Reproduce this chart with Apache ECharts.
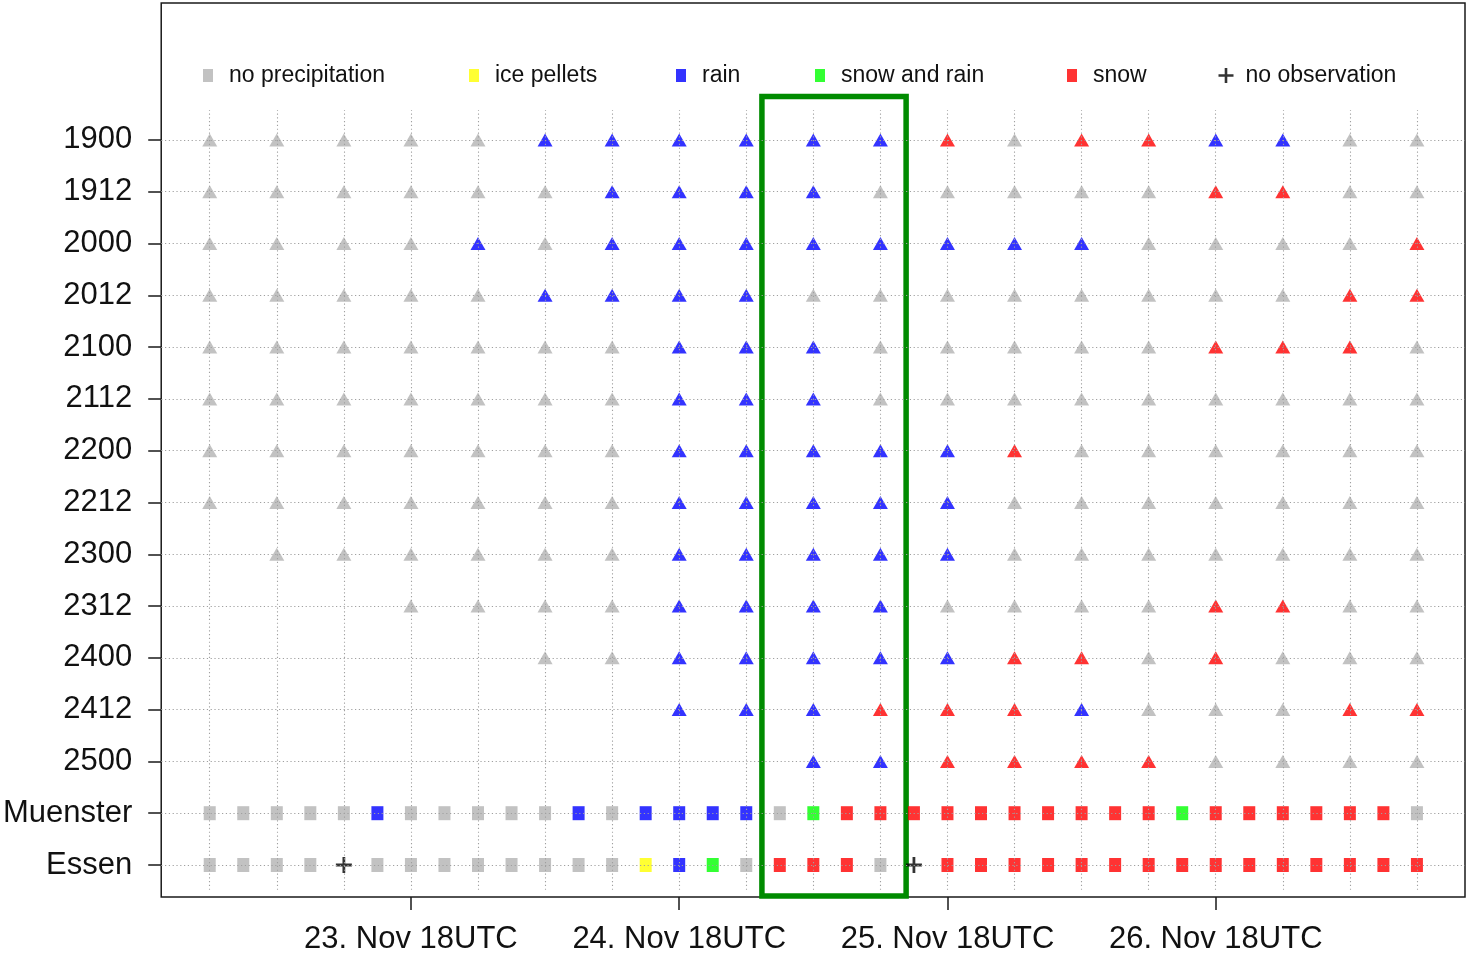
<!DOCTYPE html>
<html>
<head>
<meta charset="utf-8">
<script src="https://cdn.jsdelivr.net/npm/echarts@6/dist/echarts.min.js"></script>
<style>html,body{margin:0;padding:0;background:#fff}#c{width:1467px;height:959px}</style>
</head>
<body>
<div id="c"></div>
<script>
// ---------- data ----------
// rows from top to bottom (forecast runs DDHH, then observation stations)
const rowNames = ['1900','1912','2000','2012','2100','2112','2200','2212','2300','2312','2400','2412','2500','Muenster','Essen'];
// forecast valid times: hours since 23 Nov 00UTC (6-hourly)
const forecastHours = [0,6,12,18,24,30,36,42,48,54,60,66,72,78,84,90,96,102,108];
// observation times: hours since 23 Nov 00UTC (3-hourly)
const obsHours = [0,3,6,9,12,15,18,21,24,27,30,33,36,39,42,45,48,51,54,57,60,63,66,69,72,75,78,81,84,87,90,93,96,99,102,105,108];
// codes: n=no precipitation, i=ice pellets, r=rain, m=snow and rain, s=snow, x=no observation, -=none
const run1900 = 'nnnnnrrrrrrsnssrrnn';
const run1912 = 'nnnnnnrrrrnnnnnssnn';
const run2000 = 'nnnnrnrrrrrrrrnnnns';
const run2012 = 'nnnnnrrrrnnnnnnnnss';
const run2100 = 'nnnnnnnrrrnnnnnsssn';
const run2112 = 'nnnnnnnrrrnnnnnnnnn';
const run2200 = 'nnnnnnnrrrrrsnnnnnn';
const run2212 = 'nnnnnnnrrrrrnnnnnnn';
const run2300 = '-nnnnnnrrrrrnnnnnnn';
const run2312 = '---nnnnrrrrnnnnssnn';
const run2400 = '-----nnrrrrrssnsnnn';
const run2412 = '-------rrrsssrnnnss';
const run2500 = '---------rrssssnnnn';
const obsMuenster = 'nnnnnrnnnnnrnrrrrnmssssssssssmssssssn';
const obsEssen    = 'nnnnxnnnnnnnnirmnsssnxsssssssssssssss';
// axis ticks
const xTickValues = [18, 42, 66, 90];
const xTickLabels = ['23. Nov 18UTC', '24. Nov 18UTC', '25. Nov 18UTC', '26. Nov 18UTC'];
// highlighted period (hours since 23 Nov 00UTC) and row extent
const boxHours = [49.4, 62.3];
const boxRows = [-0.6, 14.84];

// ---------- categories ----------
const catCodes = ['n','i','r','m','s','x'];
const catNames = ['no precipitation','ice pellets','rain','snow and rain','snow','no observation'];
const catColors = ['#b3b3b3','#ffff00','#0000ff','#00ff00','#ff0000','#000000'];
const legendIconX = [208, 474, 681, 820, 1072, 1226];
const plusPath = 'path://M6.2,0H8.8V6.2H15V8.8H8.8V15H6.2V8.8H0V6.2H6.2Z';

const forecastRuns = [run1900, run1912, run2000, run2012, run2100, run2112, run2200, run2212, run2300, run2312, run2400, run2412, run2500];
const observations = [obsMuenster, obsEssen];

const catData = catCodes.map(() => []);
forecastRuns.forEach((codes, r) => {
  const y = rowNames.length - 1 - r;
  codes.split('').forEach((c, k) => {
    const ci = catCodes.indexOf(c);
    if (ci >= 0) catData[ci].push({ value: [forecastHours[k], y], symbol: 'triangle', symbolSize: [15, 13] });
  });
});
observations.forEach((codes, o) => {
  const y = rowNames.length - 1 - (forecastRuns.length + o);
  codes.split('').forEach((c, k) => {
    const ci = catCodes.indexOf(c);
    if (ci < 0) return;
    if (c === 'x') catData[ci].push({ value: [obsHours[k], y], symbol: plusPath, symbolSize: [16, 16] });
    else catData[ci].push({ value: [obsHours[k], y], symbol: 'rect', symbolSize: [12, 14] });
  });
});

const xMin = -4.34, xMax = 112.3, yMin = -0.618, yMax = 16.644;
const yValues = rowNames.map((_, i) => i);

const gridLineStyle = { color: '#a0a0a0', width: 1.1, type: [1.2, 2.6] };

const series = [];
series.push({
  type: 'scatter', data: [], z: 1, silent: true, clip: false,
  markLine: {
    silent: true, symbol: ['none', 'none'], label: { show: false }, animation: false,
    lineStyle: gridLineStyle, emphasis: { disabled: true },
    data: yValues.map(v => ({ yAxis: v })).concat(
      forecastHours.map(h => [{ coord: [h, -0.48] }, { coord: [h, 14.58] }]))
  }
});
catNames.forEach((name, i) => {
  series.push({
    name, type: 'scatter', z: 3,
    symbol: i === 5 ? plusPath : 'rect',
    itemStyle: { color: catColors[i] },
    data: catData[i],
    emphasis: { disabled: true }
  });
});
series.push({
  type: 'scatter', data: [], z: 5, silent: true, clip: false,
  markArea: {
    silent: true, animation: false,
    itemStyle: { color: 'rgba(0,0,0,0)', borderColor: '#008b00', borderWidth: 5.5 },
    label: { show: false }, emphasis: { disabled: true },
    data: [[{ xAxis: boxHours[0], yAxis: boxRows[0] }, { xAxis: boxHours[1], yAxis: boxRows[1] }]]
  }
});

const legends = catNames.map((name, i) => {
  const isPlus = i === 5;
  const w = isPlus ? 15 : 10, h = isPlus ? 15 : 13;
  return {
    data: [name], left: legendIconX[i] - w / 2, top: 64, padding: 0,
    itemWidth: w, itemHeight: h, selectedMode: false,
    textStyle: { fontSize: 23, color: '#111', fontFamily: 'Liberation Sans, Arial, sans-serif', padding: [0, 0, 0, isPlus ? 7 : 11] }
  };
});

const chart = echarts.init(document.getElementById('c'), null, { renderer: 'canvas' });
chart.setOption({
  animation: false,
  backgroundColor: '#fff',
  textStyle: { fontFamily: 'Liberation Sans, Arial, sans-serif' },
  legend: legends,
  grid: { left: 160.5, right: 2, top: 3, bottom: 62, show: true, borderColor: '#1a1a1a', borderWidth: 1.5, backgroundColor: 'transparent', containLabel: false },
  xAxis: {
    type: 'value', min: xMin, max: xMax, position: 'bottom',
    axisLine: { show: false, onZero: false },
    splitLine: { show: false },
    axisTick: { show: true, customValues: xTickValues, length: 13, inside: false, lineStyle: { color: '#1a1a1a', width: 1.5 } },
    axisLabel: { show: true, customValues: xTickValues, margin: 27, fontSize: 31, color: '#111',
      formatter: v => { const i = xTickValues.indexOf(v); return i >= 0 ? xTickLabels[i] : ''; } }
  },
  yAxis: {
    type: 'value', min: yMin, max: yMax, position: 'left',
    axisLine: { show: false, onZero: false },
    splitLine: { show: false },
    axisTick: { show: true, customValues: yValues, length: 13, inside: false, lineStyle: { color: '#1a1a1a', width: 1.5 } },
    axisLabel: { show: true, customValues: yValues, margin: 29, fontSize: 31, color: '#111', padding: [4, 0, 0, 0],
      formatter: v => { const i = Math.round(v); return rowNames[rowNames.length - 1 - i] || ''; } }
  },
  series
});
</script>
</body>
</html>
